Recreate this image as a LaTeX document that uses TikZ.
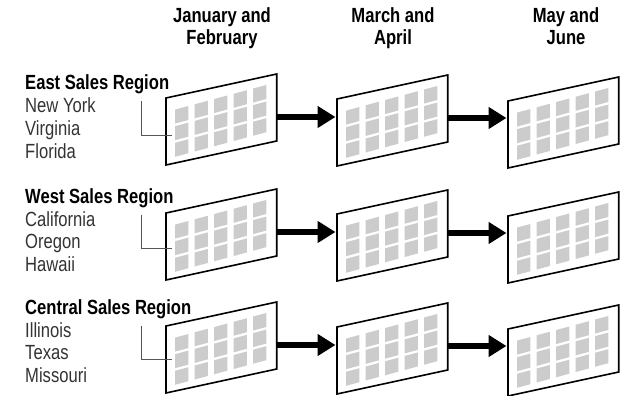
\documentclass[tikz,border=0pt]{standalone}
\usepackage{fontspec}
\setmainfont{Liberation Sans}[FakeStretch=0.81]
\usetikzlibrary{arrows.meta}
\definecolor{cellgray}{HTML}{CCCCCC}
\definecolor{statecol}{HTML}{333333}
\definecolor{conncol}{HTML}{555555}
\tikzset{
  hdr/.style={anchor=base, inner sep=0pt, font=\fontsize{20.5}{22}\selectfont\bfseries},
  regtitle/.style={anchor=base west, inner sep=0pt, font=\fontsize{20.5}{22}\selectfont\bfseries},
  statetxt/.style={anchor=base west, inner sep=0pt, text=statecol, font=\fontsize{20.5}{22}\selectfont},
  panelborder/.style={draw=black, line width=1.6pt, line join=miter, fill=white},
  bigarrow/.style={line width=5.5pt, -{Triangle[length=18pt,width=21pt]}, shorten >=1.5pt},
  conn/.style={draw=conncol, line width=0.8pt}
}
\newcommand\drawpanel[3]{%
  \coordinate (#1-bl) at (#2,#3);
  \coordinate (#1-tl) at (#2,{#3-67});
  \coordinate (#1-tr) at ({#2+110.7},{#3-91});
  \coordinate (#1-br) at ({#2+110.7},{#3-24});
  \coordinate (#1-e) at ({#2+110.7},{#3-48});
  \coordinate (#1-w) at (#2,{#3-49});
  \fill[white] (#1-bl) -- (#1-tl) -- (#1-tr) -- (#1-br) -- cycle;
  \foreach \i in {0,...,4}{
    \foreach \j in {0,1,2}{
      \pgfmathsetmacro\xl{#2+9+19.5*\i}
      \pgfmathsetmacro\xr{\xl+13.3}
      \pgfmathsetmacro\ytl{#3-57-0.27*(\xl-#2-15)+16.6*\j}
      \pgfmathsetmacro\ytr{#3-57-0.27*(\xr-#2-15)+16.6*\j}
      \fill[cellgray] (\xl,\ytl) -- (\xr,\ytr) -- (\xr,{\ytr+14}) -- (\xl,{\ytl+14}) -- cycle;
    }
  }
  \draw[panelborder, fill=none] (#1-bl) -- (#1-tl) -- (#1-tr) -- (#1-br) -- cycle;
}
\begin{document}
\begin{tikzpicture}[x=1pt,y=-1pt]
\useasboundingbox (0,0) rectangle (622,396);
% column headers
\node[hdr] (h1a) at (222,23) {January and};
\node[hdr] (h1b) at (222,45) {February};
\node[hdr] (h2a) at (393,23) {March and};
\node[hdr] (h2b) at (393,45) {April};
\node[hdr] (h3a) at (566,23) {May and};
\node[hdr] (h3b) at (566,45) {June};
% panels
\foreach \r/\d in {1/0,2/115,3/228}{
  \drawpanel{p\r1}{166}{165+\d}
  \drawpanel{p\r2}{337}{166+\d}
  \drawpanel{p\r3}{508}{168+\d}
  \draw[bigarrow] (p\r1-e) -- (p\r1-e -| p\r2-w);
  \draw[bigarrow] (p\r2-e) -- (p\r2-e -| p\r3-w);
}
% region texts
\node[regtitle] (t1) at (25,90) {East Sales Region};
\node[statetxt] (s11) at (25,113) {New York};
\node[statetxt] (s12) at (25,135.5) {Virginia};
\node[statetxt] (s13) at (25,158) {Florida};
\node[regtitle] (t2) at (25,203) {West Sales Region};
\node[statetxt] (s21) at (25,226) {California};
\node[statetxt] (s22) at (25,248.5) {Oregon};
\node[statetxt] (s23) at (25,271) {Hawaii};
\node[regtitle] (t3) at (25,314) {Central Sales Region};
\node[statetxt] (s31) at (25,337) {Illinois};
\node[statetxt] (s32) at (25,359.5) {Texas};
\node[statetxt] (s33) at (25,382) {Missouri};
% connectors
\coordinate (c1a) at (141,101.5);
\coordinate (c1b) at (172,135);
\coordinate (c2a) at (141,214.5);
\coordinate (c2b) at (172,248);
\coordinate (c3a) at (141,325.5);
\coordinate (c3b) at (172,359);
\draw[conn] (c1a) |- (c1b);
\draw[conn] (c2a) |- (c2b);
\draw[conn] (c3a) |- (c3b);
\end{tikzpicture}
\end{document}
